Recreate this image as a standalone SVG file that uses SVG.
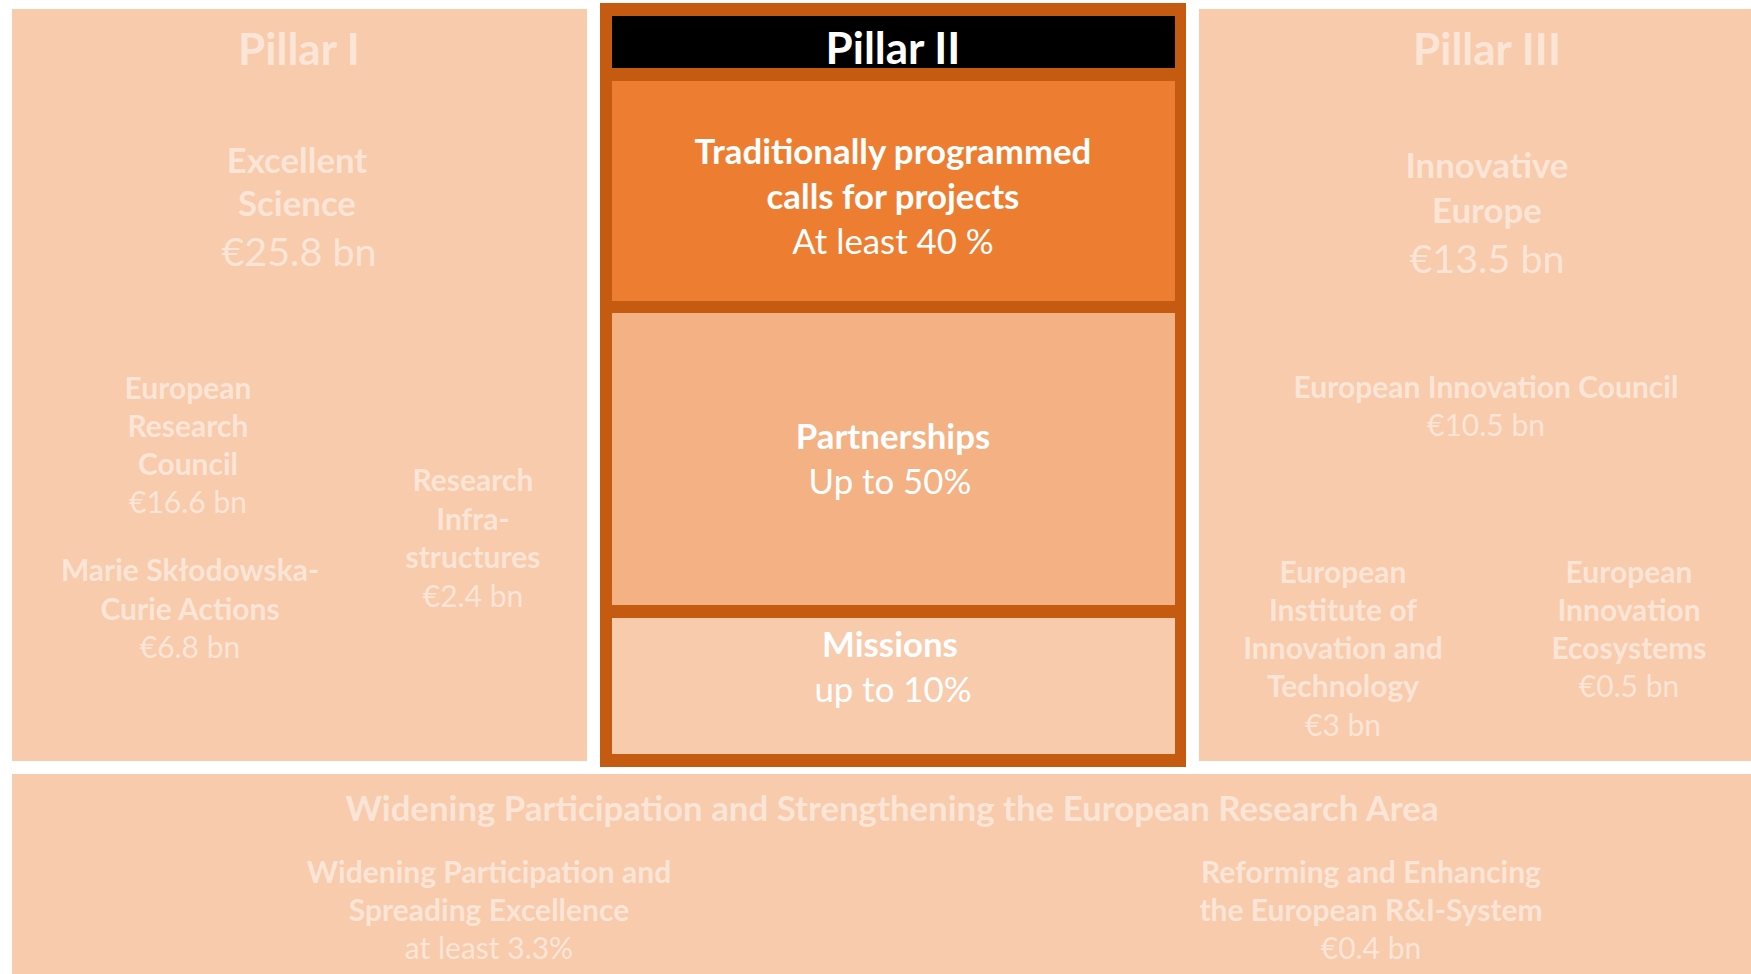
<svg xmlns="http://www.w3.org/2000/svg" width="1751" height="974" viewBox="0 0 1751 974">
<style>
text{font-family:Lato,"Open Sans","Liberation Sans",sans-serif;text-anchor:middle}
.f{fill:#FBE5D6}
.w{fill:#FFFFFF}
.t{font-size:44px;font-weight:bold}
.h{font-size:34.8px;font-weight:bold}
.hv{font-size:39.5px}
.s{font-size:30px;font-weight:bold}
.sv{font-size:30px}
.m{font-size:34.8px}
.bg{fill:#F8CBAD}
</style>
<rect width="1751" height="974" fill="#FFFFFF"/>
<g id="pillar1">
<rect class="bg" x="12" y="9" width="575" height="752"/>
<text class="f t" x="299" y="65">Pillar I</text>
<text class="f h" x="297" y="173">Excellent</text>
<text class="f h" x="297" y="216">Science</text>
<text class="f hv" x="299" y="266">€25.8 bn</text>
</g>
<g id="erc">
<text class="f s" x="188" y="399">European</text>
<text class="f s" x="188" y="437">Research</text>
<text class="f s" x="188" y="475">Council</text>
<text class="f sv" x="188" y="513">€16.6 bn</text>
</g>
<g id="msca">
<text class="f s" x="190" y="581">Marie Skłodowska-</text>
<text class="f s" x="190" y="620">Curie Actions</text>
<text class="f sv" x="190" y="658">€6.8 bn</text>
</g>
<g id="infra">
<text class="f s" x="473" y="491">Research</text>
<text class="f s" x="473" y="530">Infra-</text>
<text class="f s" x="473" y="568">structures</text>
<text class="f sv" x="473" y="607">€2.4 bn</text>
</g>
<g id="pillar2">
<rect x="600" y="3" width="586" height="764" fill="#C55A11"/>
<rect x="612" y="16" width="563" height="52" fill="#000000"/>
<text class="w t" x="893" y="64">Pillar II</text>
</g>
<g id="traditional">
<rect x="612" y="81" width="563" height="220" fill="#ED7D31"/>
<text class="w h" x="893" y="164">Traditionally programmed</text>
<text class="w h" x="893" y="209">calls for projects</text>
<text class="w m" x="893" y="254">At least 40 %</text>
</g>
<g id="partnerships">
<rect x="612" y="313" width="563" height="292" fill="#F4B183"/>
<text class="w h" x="893" y="449">Partnerships</text>
<text class="w m" x="890" y="494">Up to 50%</text>
</g>
<g id="missions">
<rect x="612" y="618" width="563" height="136" fill="#F8CBAD"/>
<text class="w h" x="890" y="657">Missions</text>
<text class="w m" x="893" y="702">up to 10%</text>
</g>
<g id="pillar3">
<rect class="bg" x="1199" y="9" width="552" height="752"/>
<text class="f t" x="1487" y="65">Pillar III</text>
<text class="f h" x="1487" y="178">Innovative</text>
<text class="f h" x="1487" y="223">Europe</text>
<text class="f hv" x="1487" y="273">€13.5 bn</text>
</g>
<g id="eic">
<text class="f s" x="1486" y="398">European Innovation Council</text>
<text class="f sv" x="1486" y="436">€10.5 bn</text>
</g>
<g id="eit">
<text class="f s" x="1343" y="583">European</text>
<text class="f s" x="1343" y="621">Institute of</text>
<text class="f s" x="1343" y="659">Innovation and</text>
<text class="f s" x="1343" y="697">Technology</text>
<text class="f sv" x="1343" y="736">€3 bn</text>
</g>
<g id="eie">
<text class="f s" x="1629" y="583">European</text>
<text class="f s" x="1629" y="621">Innovation</text>
<text class="f s" x="1629" y="659">Ecosystems</text>
<text class="f sv" x="1629" y="697">€0.5 bn</text>
</g>
<g id="widening">
<rect class="bg" x="12" y="774" width="1739" height="200"/>
<text class="f h" x="892" y="821">Widening Participation and Strengthening the European Research Area</text>
</g>
<g id="spreading">
<text class="f s" x="489" y="883">Widening Participation and</text>
<text class="f s" x="489" y="921">Spreading Excellence</text>
<text class="f sv" x="489" y="959">at least 3.3%</text>
</g>
<g id="reforming">
<text class="f s" x="1371" y="883">Reforming and Enhancing</text>
<text class="f s" x="1371" y="921">the European R&amp;I-System</text>
<text class="f sv" x="1371" y="959">€0.4 bn</text>
</g>
<g id="connectors"/>
</svg>
